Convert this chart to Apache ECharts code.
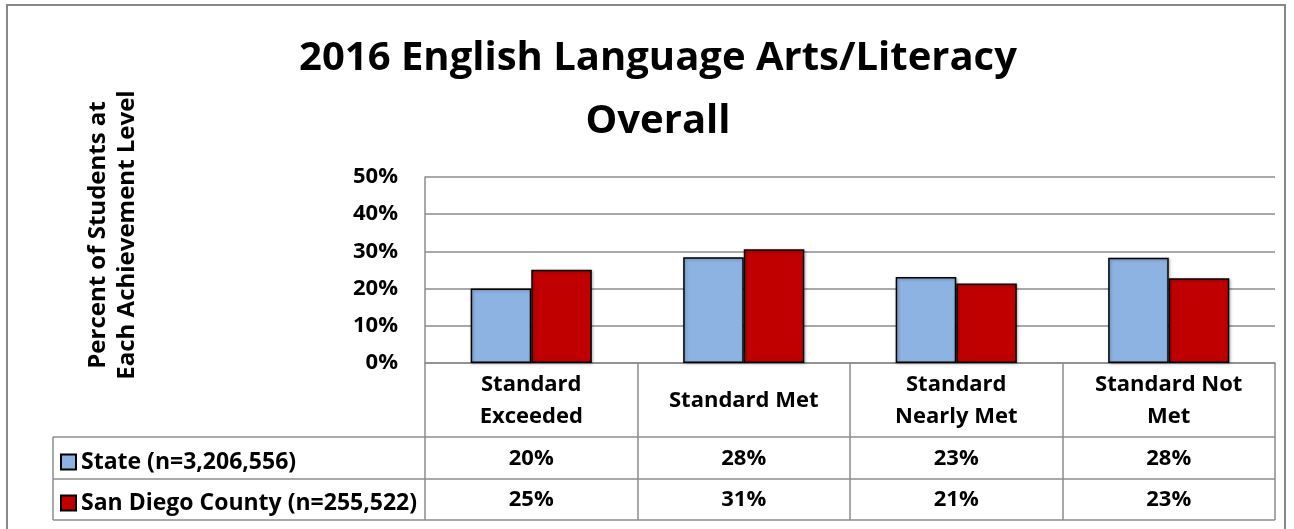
<!DOCTYPE html>
<html>
<head>
<meta charset="utf-8">
<script src="https://cdn.jsdelivr.net/npm/echarts@6/dist/echarts.min.js"></script>
<style>
  html, body { margin: 0; padding: 0; background: #fff; }
  #main { width: 1294px; height: 529px; }
</style>
</head>
<body>
<div id="main"></div>
<script>
const myChart = echarts.init(document.getElementById('main'))

// data
const categories = ['Standard\nExceeded', 'Standard Met', 'Standard\nNearly Met', 'Standard Not\nMet']
const stateName = 'State (n=3,206,556)'
const sdName = 'San Diego County (n=255,522)'
const stateValues = [20.0, 28.4, 23.1, 28.3]
const sdValues = [25.1, 30.6, 21.4, 22.8]
const yTicks = [0, 10, 20, 30, 40, 50]

const font = 'Open Sans'
const gray = '#8c8c8c'
const pct = v => Math.round(v) + '%'

// table row axes (values shown under each category)
function rowAxis(values, margin) {
  return {
    type: 'category',
    gridIndex: 0,
    position: 'bottom',
    offset: 0,
    data: values.map(pct),
    axisLine: { show: false },
    axisTick: { show: false },
    axisLabel: {
      margin: margin,
      verticalAlign: 'middle',
      fontFamily: font, fontWeight: 'bold', fontSize: 22, color: '#000'
    }
  }
}

var option = {
  animation: false,
  title: {
    text: '2016 English Language Arts/Literacy\nOverall',
    left: 653,
    top: 22,
    textAlign: 'center',
    textStyle: { fontFamily: font, fontWeight: 'bold', fontSize: 40, lineHeight: 63, color: '#000' }
  },
  legend: {
    orient: 'vertical',
    left: 55,
    top: 444,
    itemGap: 15,
    itemWidth: 15,
    itemHeight: 15,
    icon: 'rect',
    textStyle: { fontFamily: font, fontWeight: 'bold', fontSize: 23, lineHeight: 26, color: '#000' }
  },
  grid: { left: 425, right: 19, top: 177, bottom: 166 },
  xAxis: [
    {
      type: 'category',
      data: categories,
      axisLine: { lineStyle: { color: gray, width: 1.5 } },
      axisTick: { show: true, interval: 0, length: 157, lineStyle: { color: gray, width: 1.5 } },
      axisLabel: {
        interval: 0,
        margin: 38,
        verticalAlign: 'middle',
        lineHeight: 32,
        fontFamily: font, fontWeight: 'bold', fontSize: 22, color: '#000'
      }
    },
    rowAxis(stateValues, 96),
    rowAxis(sdValues, 137)
  ],
  yAxis: {
    type: 'value',
    min: yTicks[0],
    max: yTicks[yTicks.length - 1],
    interval: 10,
    axisLine: { show: true, lineStyle: { color: gray, width: 1.5 } },
    axisTick: { show: false },
    splitLine: { lineStyle: { color: gray, width: 1.5 } },
    axisLabel: {
      margin: 27,
      formatter: v => v + '%',
      fontFamily: font, fontWeight: 'bold', fontSize: 22, color: '#000'
    }
  },
  series: [
    {
      name: stateName,
      type: 'bar',
      data: stateValues,
      barGap: '0%',
      barCategoryGap: '43%',
      itemStyle: {
        color: '#8db3e2', borderColor: '#000', borderWidth: 1.5,
        shadowBlur: 3, shadowColor: 'rgba(0,0,0,0.3)', shadowOffsetX: 1, shadowOffsetY: 1
      }
    },
    {
      name: sdName,
      type: 'bar',
      data: sdValues,
      itemStyle: {
        color: '#c00000', borderColor: '#000', borderWidth: 1.5,
        shadowBlur: 3, shadowColor: 'rgba(0,0,0,0.3)', shadowOffsetX: 1, shadowOffsetY: 1
      }
    }
  ],
  graphic: [
    // outer frame
    { type: 'rect', shape: { x: 7, y: 5, width: 1278, height: 600 }, style: { fill: 'none', stroke: '#888', lineWidth: 2 }, silent: true },
    // y axis name
    {
      type: 'text', x: 112.5, y: 235, rotation: Math.PI / 2,
      style: {
        text: 'Percent of Students at\nEach Achievement Level',
        fontFamily: font, fontWeight: 'bold', fontSize: 24, lineHeight: 29,
        align: 'center', verticalAlign: 'middle', fill: '#000'
      }
    },
    // data table lines
    { type: 'line', shape: { x1: 53, y1: 437, x2: 1275, y2: 437 }, style: { stroke: gray, lineWidth: 1.5 } },
    { type: 'line', shape: { x1: 53, y1: 479, x2: 1275, y2: 479 }, style: { stroke: gray, lineWidth: 1.5 } },
    { type: 'line', shape: { x1: 53, y1: 520, x2: 1275, y2: 520 }, style: { stroke: gray, lineWidth: 1.5 } },
    { type: 'line', shape: { x1: 53, y1: 437, x2: 53, y2: 520 }, style: { stroke: gray, lineWidth: 1.5 } }
  ]
}

myChart.setOption(option)
</script>
</body>
</html>
